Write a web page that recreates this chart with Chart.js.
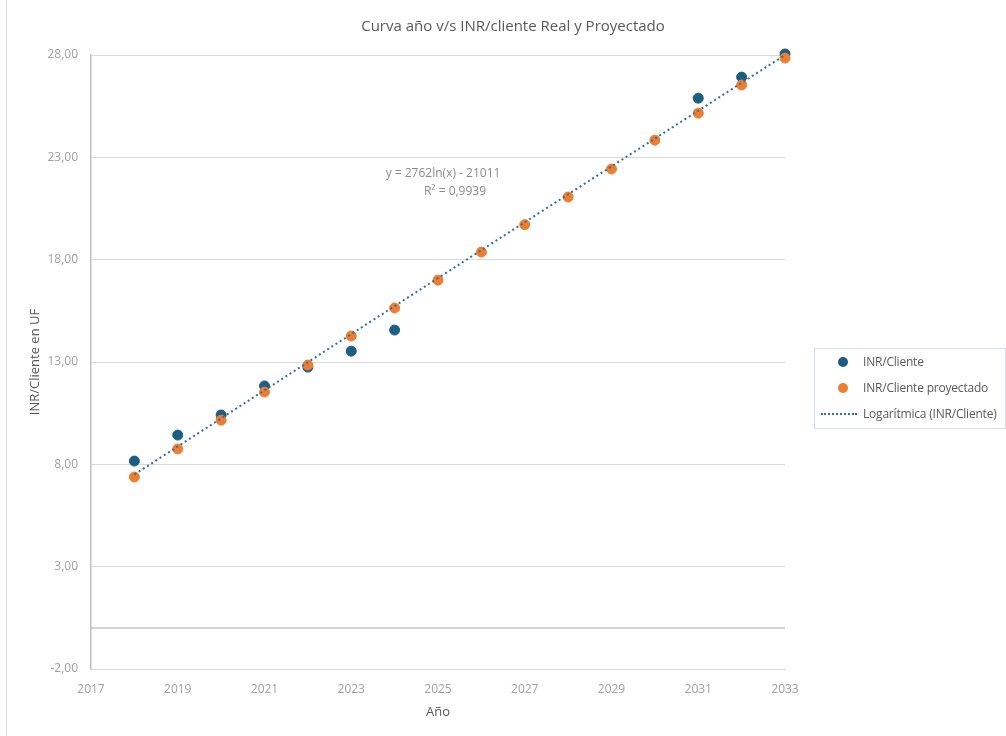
<!DOCTYPE html>
<html>
<head>
<meta charset="utf-8">
<script src="https://cdn.jsdelivr.net/npm/chart.js@4.4.1/dist/chart.umd.min.js"></script>
<style>
  body { margin: 0; background: #fff; font-family: "Open Sans", sans-serif; }
  #wrap { position: relative; width: 1006px; height: 736px; }
  #edge { position: absolute; left: 6px; top: 0; width: 0; height: 736px; border-left: 1px solid #d9d9d9; }
  #legend { position: absolute; left: 814px; top: 348px; width: 190px; height: 79px;
            border: 1px solid #cfe2f3; color: #595959; font-size: 12px; letter-spacing: -0.2px; }
  .item { position: absolute; left: 0; height: 20px; line-height: 20px; white-space: nowrap; }
  .dot { position: absolute; left: 23px; top: 5px; width: 10px; height: 10px; border-radius: 50%; }
  .dash { position: absolute; left: 6px; top: 9px; width: 36px; border-top: 2px dotted #2f6f9e; }
  .lbl { position: absolute; left: 48px; }
</style>
</head>
<body>
<div id="wrap">
  <canvas id="chart" width="1006" height="736"></canvas>
  <div id="edge"></div>
  <div id="legend">
    <div class="item" style="top:3px"><span class="dot" style="background:#1c5d84"></span><span class="lbl">INR/Cliente</span></div>
    <div class="item" style="top:29px"><span class="dot" style="background:#ed7d31"></span><span class="lbl">INR/Cliente proyectado</span></div>
    <div class="item" style="top:55px"><span class="dash"></span><span class="lbl">Logarítmica (INR/Cliente)</span></div>
  </div>
</div>
<script>
// real values (years with data)
const realYears = [2018, 2019, 2020, 2021, 2022, 2023, 2024, 2031, 2032, 2033];
const realValues = [8.16, 9.43, 10.41, 11.83, 12.75, 13.53, 14.56, 25.89, 26.92, 28.05];

// projected values
const projYears = [2018, 2019, 2020, 2021, 2022, 2023, 2024, 2025, 2026, 2027, 2028, 2029, 2030, 2031, 2032, 2033];
const projValues = [7.38, 8.75, 10.16, 11.53, 12.85, 14.27, 15.64, 17.0, 18.37, 19.71, 21.06, 22.43, 23.84, 25.16, 26.53, 27.85];

// trend line
const trendYears = [2018, 2025, 2033];
const trendValues = [7.5, 17.1, 28.0];

const titleText = 'Curva año v/s INR/cliente Real y Proyectado';
const eqText = 'y = 2762ln(x) - 21011';
const r2Text = 'R² = 0,9939';

const toPts = (xs, ys) => xs.map((x, i) => ({ x: x, y: ys[i] }));

const tickColor = '#a0a0a0';
const textColor = '#595959';

// zero line, title and trend equation
const extras = {
    id: 'extras',
    beforeDatasetsDraw(chart) {
        const ctx = chart.ctx;
        const y0 = chart.scales.y.getPixelForValue(0);
        ctx.save();
        ctx.strokeStyle = '#c4c4c4';
        ctx.lineWidth = 1.5;
        ctx.beginPath();
        ctx.moveTo(chart.chartArea.left, y0);
        ctx.lineTo(chart.chartArea.right, y0);
        ctx.stroke();
        ctx.restore();
    },
    afterDatasetsDraw(chart) {
        const ctx = chart.ctx;
        ctx.save();
        ctx.textAlign = 'center';
        ctx.textBaseline = 'middle';
        ctx.fillStyle = textColor;
        ctx.font = '15px "Open Sans"';
        ctx.fillText(titleText, 513, 27);
        ctx.fillStyle = '#8c8c8c';
        ctx.font = '12px "Open Sans"';
        ctx.fillText(eqText, 443, 174);
        ctx.fillText(r2Text, 455, 192);
        ctx.restore();
    }
};

var chartContainer = document.getElementById('chart');
var chart = new Chart(chartContainer, {
    type: 'scatter',
    data: {
        datasets: [{
            label: 'INR/Cliente',
            data: toPts(realYears, realValues),
            backgroundColor: '#1c5d84',
            borderColor: '#1c5d84',
            pointRadius: 5,
            clip: false,
            order: 3
        }, {
            label: 'INR/Cliente proyectado',
            data: toPts(projYears, projValues),
            backgroundColor: '#ed7d31',
            borderColor: '#ed7d31',
            pointRadius: 5,
            clip: false,
            order: 2
        }, {
            label: 'Logarítmica (INR/Cliente)',
            type: 'line',
            data: toPts(trendYears, trendValues),
            borderColor: '#2f6f9e',
            borderWidth: 2,
            borderDash: [2, 3],
            pointRadius: 0,
            tension: 0.4,
            fill: false,
            clip: false,
            order: 1
        }]
    },
    options: {
        responsive: false,
        animation: false,
        layout: { padding: { left: 0, right: 221, top: 55, bottom: 0 } },
        plugins: {
            legend: { display: false },
            tooltip: { enabled: false },
            title: { display: false }
        },
        scales: {
            x: {
                type: 'linear',
                min: 2017,
                max: 2033,
                ticks: {
                    stepSize: 2,
                    color: tickColor,
                    font: { family: 'Open Sans', size: 12 },
                    padding: 13,
                    callback: v => String(v)
                },
                grid: { display: false, drawTicks: false },
                border: { color: '#d9d9d9', width: 1 },
                title: {
                    display: true,
                    text: 'Año',
                    color: textColor,
                    font: { family: 'Open Sans', size: 13 },
                    padding: { top: 0, bottom: 16 }
                },
                afterFit: s => { s.height = 67; }
            },
            y: {
                min: -2,
                max: 28,
                ticks: {
                    stepSize: 5,
                    color: tickColor,
                    font: { family: 'Open Sans', size: 12 },
                    padding: 13,
                    callback: v => v.toFixed(2).replace('.', ',')
                },
                grid: { color: '#d9d9d9', drawTicks: false },
                border: { color: '#bfbfbf', width: 1.5 },
                title: {
                    display: true,
                    text: 'INR/Cliente en UF',
                    color: textColor,
                    font: { family: 'Open Sans', size: 13 },
                    padding: { top: 27, bottom: 0 }
                },
                afterFit: s => { s.width = 91; }
            }
        }
    },
    plugins: [extras]
});
</script>
</body>
</html>
